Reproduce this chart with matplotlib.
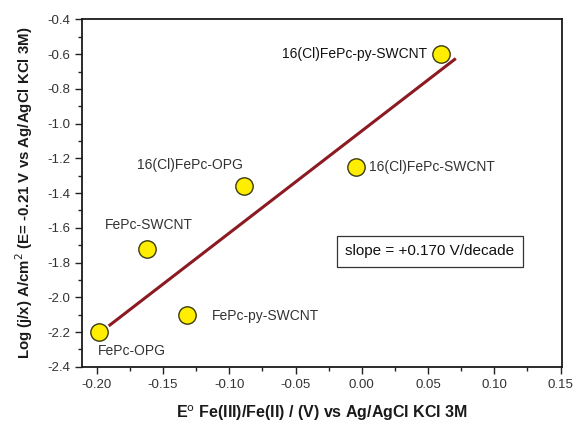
import numpy as np
import matplotlib
matplotlib.use("Agg")
import matplotlib.pyplot as plt
from matplotlib.ticker import MultipleLocator

plt.rcParams['font.family'] = ['Liberation Sans', 'DejaVu Sans']

# Formal potentials and kinetic current for each electrode
samples = ['FePc-OPG', 'FePc-SWCNT', 'FePc-py-SWCNT',
           '16(Cl)FePc-OPG', '16(Cl)FePc-SWCNT', '16(Cl)FePc-py-SWCNT']
e_formal = [-0.198, -0.162, -0.132, -0.089, -0.004, 0.060]
log_j = [-2.20, -1.72, -2.10, -1.36, -1.25, -0.60]

# label offsets in points and alignment
label_offsets = [(-1, -14), (1, 17), (18, -1), (-39, 15), (9, 0), (-10, 0)]
label_ha = ['left', 'center', 'left', 'center', 'left', 'right']

# fitted line: slope quoted in V/decade
slope_v_per_dec = 0.170
fit_x = np.array([-0.19, 0.07])
fit_center = (-0.06, -1.395)

fig = plt.figure(figsize=(5.74, 4.23), dpi=100)
ax = fig.add_axes([0.143, 0.133, 0.836, 0.821])

fit_y = fit_center[1] + (fit_x - fit_center[0]) / slope_v_per_dec
ax.plot(fit_x, fit_y, color='#8b1a22', lw=2.2, zorder=2)

ax.plot(e_formal, log_j, 'o', ms=12.5, mfc='#ffee00', mec='#3a3a10',
        mew=1.0, zorder=3)

for name, x, y, off, ha in zip(samples, e_formal, log_j, label_offsets, label_ha):
    color = '#111111' if name == '16(Cl)FePc-py-SWCNT' else '#333333'
    ax.annotate(name, (x, y), xytext=off, textcoords='offset points',
                ha=ha, va='center', fontsize=10, color=color)

ax.text(0.725, 0.332, 'slope = +0.170 V/decade', transform=ax.transAxes,
        ha='center', va='center', fontsize=11, color='#111111',
        bbox=dict(boxstyle='square,pad=0.55', fc='white', ec='#333333', lw=0.9))

ax.set_xlim(-0.211, 0.151)
ax.set_ylim(-2.4, -0.4)
ax.xaxis.set_major_locator(MultipleLocator(0.05))
ax.xaxis.set_minor_locator(MultipleLocator(0.025))
ax.yaxis.set_major_locator(MultipleLocator(0.2))
ax.yaxis.set_minor_locator(MultipleLocator(0.1))
ax.xaxis.set_major_formatter(matplotlib.ticker.FormatStrFormatter('%.2f'))
ax.yaxis.set_major_formatter(matplotlib.ticker.FormatStrFormatter('%.1f'))
ax.tick_params(which='both', direction='out', colors='#222222', labelcolor='#333333',
               labelsize=9.5, width=1.0)
ax.tick_params(which='major', length=5)
ax.tick_params(which='minor', length=3)
for sp in ax.spines.values():
    sp.set_linewidth(1.3)
    sp.set_color('#1a1a1a')

ax.set_xlabel('E$^{\\rm o}$ Fe(III)/Fe(II) / (V) vs Ag/AgCl KCl 3M',
              fontsize=11.5, fontweight='bold', labelpad=9, color='#1a1a1a')
ax.set_ylabel('Log (j/x) A/cm$^{\\rm 2}$ (E= -0.21 V vs Ag/AgCl KCl 3M)',
              fontsize=10.8, fontweight='bold', labelpad=9, color='#1a1a1a')

fig.savefig('out.png', dpi=100)
